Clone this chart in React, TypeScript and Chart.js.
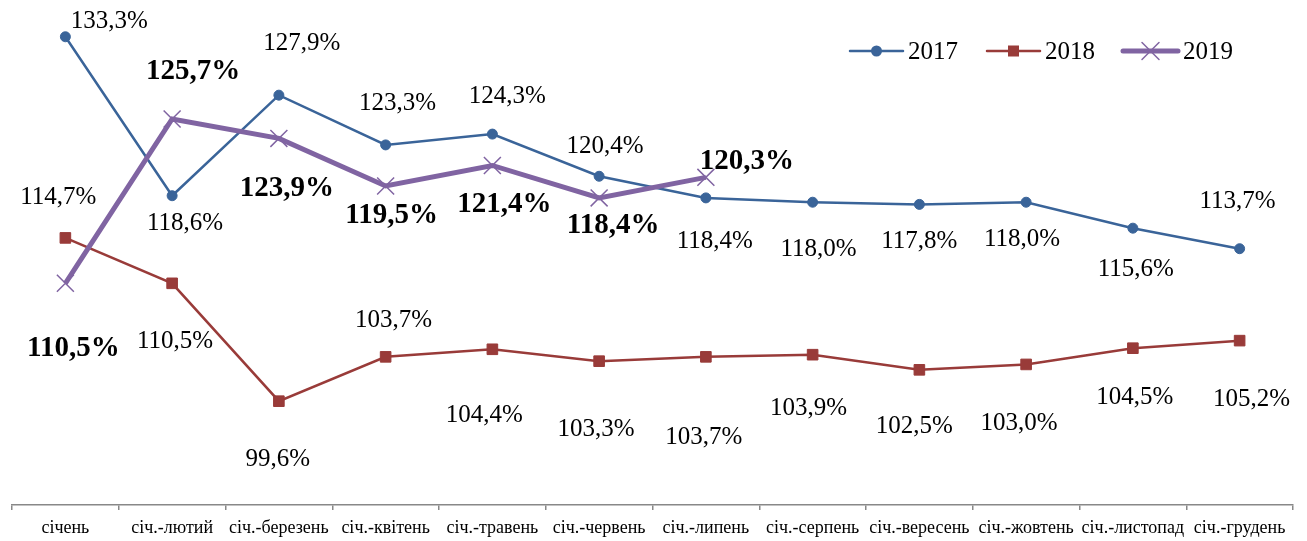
import React, { useEffect, useRef } from "react";
import { Chart, registerables } from "chart.js";

Chart.register(...registerables);

const categories = [
  "січень",
  "січ.-лютий",
  "січ.-березень",
  "січ.-квітень",
  "січ.-травень",
  "січ.-червень",
  "січ.-липень",
  "січ.-серпень",
  "січ.-вересень",
  "січ.-жовтень",
  "січ.-листопад",
  "січ.-грудень",
];

const seriesNames = ["2017", "2018", "2019"];

const values2017 = [133.3, 118.6, 127.9, 123.3, 124.3, 120.4, 118.4, 118.0, 117.8, 118.0, 115.6, 113.7];
const values2018 = [114.7, 110.5, 99.6, 103.7, 104.4, 103.3, 103.7, 103.9, 102.5, 103.0, 104.5, 105.2];
const values2019 = [110.5, 125.7, 123.9, 119.5, 121.4, 118.4, 120.3];

// label offsets (dx, dy) in pixels relative to each point – styling only
const offsets2017 = [
  [44, -15], [13, 28], [23, -52], [12, -41], [15, -38], [6, -30],
  [9, 44], [6, 47], [0, 37], [-4, 37], [3, 41], [-2, -47],
];
const offsets2018 = [
  [-7, -40], [3, 58], [-1, 58], [8, -36], [-8, 66], [-3, 68],
  [-2, 81], [-4, 54], [-5, 57], [-7, 59], [2, 49], [12, 59],
];
const offsets2019 = [[8, 65], [21, -47], [8, 50], [6, 30], [12, 39], [14, 28], [41, -16]];

const BLUE = "#3A6499";
const RED = "#993B39";
const PURPLE = "#8064A2";
const SERIF = "'Liberation Serif', 'Times New Roman', serif";

const fmt = (v: number) => v.toFixed(1).replace(".", ",") + "%";

const labelPlugin = {
  id: "pointValueLabels",
  afterDatasetsDraw(chart: any) {
    const ctx = chart.ctx;
    const allOffsets = [offsets2017, offsets2018, offsets2019];
    chart.data.datasets.forEach((ds: any, di: number) => {
      const meta = chart.getDatasetMeta(di);
      const offs = allOffsets[di];
      ctx.save();
      ctx.font = di === 2 ? `bold 29px ${SERIF}` : `25px ${SERIF}`;
      ctx.fillStyle = "#000";
      ctx.textAlign = "center";
      ctx.textBaseline = "middle";
      meta.data.forEach((pt: any, i: number) => {
        const v = ds.data[i];
        if (v == null) return;
        const o = offs[i] || [0, 0];
        ctx.fillText(fmt(v), pt.x + o[0], pt.y + o[1]);
      });
      ctx.restore();
    });
  },
};

const legendPlugin = {
  id: "customLegend",
  afterDraw(chart: any) {
    const ctx = chart.ctx;
    const items = [
      { x0: 850, x1: 903, tx: 908, color: BLUE, width: 2.5, marker: "circle" },
      { x0: 987, x1: 1040, tx: 1045, color: RED, width: 2.5, marker: "rect" },
      { x0: 1123, x1: 1178, tx: 1183, color: PURPLE, width: 5, marker: "cross" },
    ];
    const y = 51;
    ctx.save();
    items.forEach((it, i) => {
      ctx.strokeStyle = it.color;
      ctx.fillStyle = it.color;
      ctx.lineWidth = it.width;
      ctx.lineCap = "round";
      ctx.beginPath();
      ctx.moveTo(it.x0, y);
      ctx.lineTo(it.x1, y);
      ctx.stroke();
      const cx = (it.x0 + it.x1) / 2;
      if (it.marker === "circle") {
        ctx.beginPath();
        ctx.arc(cx, y, 5.5, 0, Math.PI * 2);
        ctx.fill();
      } else if (it.marker === "rect") {
        ctx.fillRect(cx - 5.5, y - 5.5, 11, 11);
      } else {
        ctx.lineWidth = 1.5;
        ctx.beginPath();
        ctx.moveTo(cx - 8.5, y - 8.5);
        ctx.lineTo(cx + 8.5, y + 8.5);
        ctx.moveTo(cx - 8.5, y + 8.5);
        ctx.lineTo(cx + 8.5, y - 8.5);
        ctx.stroke();
      }
      ctx.fillStyle = "#000";
      ctx.font = `25px ${SERIF}`;
      ctx.textAlign = "left";
      ctx.textBaseline = "middle";
      ctx.fillText(seriesNames[i], it.tx, y + 1);
    });
    ctx.restore();
  },
};

export default function App() {
  const ref = useRef<HTMLCanvasElement | null>(null);

  useEffect(() => {
    if (!ref.current) return;
    const chart = new Chart(ref.current, {
      type: "line",
      data: {
        labels: categories,
        datasets: [
          {
            label: seriesNames[0],
            data: values2017,
            borderColor: BLUE,
            backgroundColor: BLUE,
            borderWidth: 2.5,
            pointStyle: "circle",
            pointRadius: 5,
            pointBorderWidth: 1,
            pointBackgroundColor: BLUE,
            pointBorderColor: BLUE,
            order: 3,
            clip: false,
          },
          {
            label: seriesNames[1],
            data: values2018,
            borderColor: RED,
            backgroundColor: RED,
            borderWidth: 2.5,
            pointStyle: "rect",
            pointRadius: 7.5,
            pointBorderWidth: 1,
            pointBackgroundColor: RED,
            pointBorderColor: RED,
            order: 2,
            clip: false,
          },
          {
            label: seriesNames[2],
            data: values2019,
            borderColor: PURPLE,
            backgroundColor: PURPLE,
            borderWidth: 5,
            pointStyle: "crossRot",
            pointRadius: 12,
            pointBorderWidth: 1.5,
            pointBorderColor: PURPLE,
            order: 1,
            clip: false,
          },
        ],
      },
      options: {
        responsive: false,
        animation: false,
        layout: { autoPadding: false, padding: { left: 12, right: 14, top: 0, bottom: -4.6 } },
        plugins: {
          legend: { display: false },
          tooltip: { enabled: false },
          title: { display: false },
        },
        scales: {
          x: {
            type: "category",
            offset: true,
            grid: {
              display: true,
              offset: true,
              drawOnChartArea: false,
              drawTicks: true,
              tickLength: 5,
              color: "#888888",
              lineWidth: 1.5,
            },
            border: { display: true, color: "#888888", width: 1.5 },
            ticks: {
              color: "#000",
              font: { family: SERIF, size: 18 },
              padding: 7,
              maxRotation: 0,
              autoSkip: false,
            },
          },
          y: {
            display: false,
            min: 90,
            max: 136.7,
          },
        },
      },
      plugins: [labelPlugin, legendPlugin],
    });
    return () => chart.destroy();
  }, []);

  return (
    <div style={{ position: "fixed", left: 0, top: 0, width: 1307, height: 541, background: "#fff" }}>
      <canvas ref={ref} width={1307} height={541} />
    </div>
  );
}
